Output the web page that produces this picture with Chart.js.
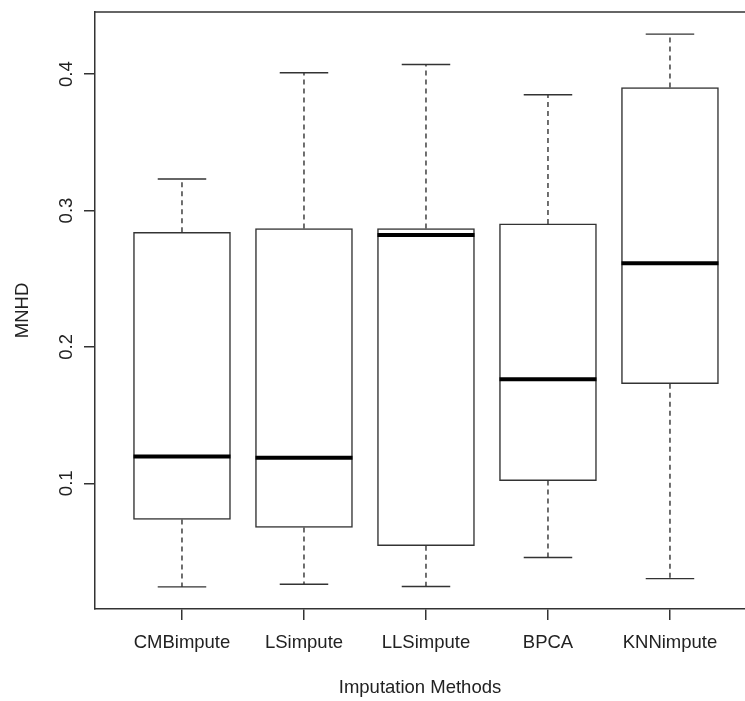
<!DOCTYPE html>
<html lang="en">
<head>
    <meta charset="UTF-8">
    <title>MNHD by imputation method</title>
    <script src="https://cdn.jsdelivr.net/npm/chart.js"></script>
    <style>
        html, body { margin: 0; padding: 0; background: #fff; overflow: hidden; }
        #wrap { width: 745px; height: 701px; position: relative; }
    </style>
</head>
<body>
    <div id="wrap"><canvas id="boxChart"></canvas></div>

    <script>
        // five-number summaries per method
        var categories = ['CMBimpute', 'LSimpute', 'LLSimpute', 'BPCA', 'KNNimpute'];
        var whiskerLow = [0.0240, 0.0260, 0.0243, 0.0456, 0.0301];
        var q1 = [0.0735, 0.0676, 0.0542, 0.1020, 0.1730];
        var median = [0.1196, 0.1187, 0.2821, 0.1762, 0.2614];
        var q3 = [0.2841, 0.2868, 0.2868, 0.2902, 0.3902];
        var whiskerHigh = [0.3231, 0.4010, 0.4071, 0.3849, 0.4294];
        var yTicks = [0.1, 0.2, 0.3, 0.4];

        var ink = '#333';
        var textColor = '#222';
        var font = { family: "'Liberation Sans', Arial, sans-serif", size: 18.5 };

        // whiskers, caps, medians and the top edge of the frame
        var boxWhiskers = {
            id: 'boxWhiskers',
            afterDatasetsDraw: function (chart) {
                var ctx = chart.ctx;
                var x = chart.scales.x, y = chart.scales.y;
                var bars = chart.getDatasetMeta(0).data;
                var area = chart.chartArea;

                function line(x1, y1, x2, y2) {
                    ctx.beginPath();
                    ctx.moveTo(x1, y1);
                    ctx.lineTo(x2, y2);
                    ctx.stroke();
                }

                ctx.save();
                ctx.strokeStyle = ink;
                categories.forEach(function (name, i) {
                    var cx = x.getPixelForValue(i + 1);
                    var half = bars[i].width / 2;
                    var cap = half / 2;

                    ctx.lineWidth = 1.4;
                    ctx.setLineDash([5, 4]);
                    line(cx, y.getPixelForValue(q3[i]), cx, y.getPixelForValue(whiskerHigh[i]));
                    line(cx, y.getPixelForValue(q1[i]), cx, y.getPixelForValue(whiskerLow[i]));
                    ctx.setLineDash([]);
                    line(cx - cap, y.getPixelForValue(whiskerHigh[i]), cx + cap, y.getPixelForValue(whiskerHigh[i]));
                    line(cx - cap, y.getPixelForValue(whiskerLow[i]), cx + cap, y.getPixelForValue(whiskerLow[i]));

                    ctx.lineWidth = 4;
                    ctx.strokeStyle = '#000';
                    line(cx - half, y.getPixelForValue(median[i]), cx + half, y.getPixelForValue(median[i]));
                    ctx.strokeStyle = ink;
                });

                ctx.lineWidth = 1.5;
                line(area.left, area.top, area.right, area.top);
                ctx.restore();
            }
        };

        var ctx = document.getElementById('boxChart').getContext('2d');
        var chart = new Chart(ctx, {
            type: 'bar',
            data: {
                datasets: [{
                    label: 'MNHD',
                    data: categories.map(function (c, i) { return { x: i + 1, y: [q1[i], q3[i]] }; }),
                    backgroundColor: '#fff',
                    borderColor: ink,
                    borderWidth: 1.5,
                    borderSkipped: false,
                    barThickness: 97
                }]
            },
            options: {
                responsive: true,
                maintainAspectRatio: false,
                animation: false,
                layout: { padding: { top: 12, right: 0, left: 0, bottom: 0 } },
                plugins: {
                    legend: { display: false },
                    tooltip: { enabled: false }
                },
                scales: {
                    x: {
                        type: 'linear',
                        offset: false,
                        min: 0.287,
                        max: 5.615,
                        afterBuildTicks: function (scale) {
                            scale.ticks = categories.map(function (c, i) { return { value: i + 1 }; });
                        },
                        afterFit: function (scale) {
                            scale.height = 92;
                            scale.paddingLeft = 0;
                            scale.paddingRight = 0;
                        },
                        ticks: {
                            autoSkip: false,
                            maxRotation: 0,
                            padding: 12,
                            color: textColor,
                            font: font,
                            callback: function (v) { return categories[v - 1]; }
                        },
                        grid: { offset: false, drawOnChartArea: false, drawTicks: true, tickLength: 11, color: ink, lineWidth: 1.5 },
                        border: { display: true, color: ink, width: 1.5 },
                        title: {
                            display: true,
                            text: 'Imputation Methods',
                            color: textColor,
                            font: font,
                            padding: { top: 0, bottom: 2 }
                        }
                    },
                    y: {
                        type: 'linear',
                        min: 0.0078,
                        max: 0.4456,
                        afterBuildTicks: function (scale) {
                            scale.ticks = yTicks.map(function (v) { return { value: v }; });
                        },
                        afterFit: function (scale) {
                            scale.width = 95;
                            scale.paddingTop = 0;
                            scale.paddingBottom = 0;
                        },
                        ticks: {
                            minRotation: 90,
                            maxRotation: 90,
                            crossAlign: 'center',
                            padding: 4,
                            color: textColor,
                            font: font,
                            callback: function (v) { return v.toFixed(1); }
                        },
                        grid: { drawOnChartArea: false, drawTicks: true, tickLength: 11, color: ink, lineWidth: 1.5 },
                        border: { display: true, color: ink, width: 1.5 },
                        title: {
                            display: true,
                            text: 'MNHD',
                            color: textColor,
                            font: font,
                            padding: { top: 12, bottom: 0 }
                        }
                    }
                }
            },
            plugins: [boxWhiskers]
        });
    </script>
</body>
</html>
